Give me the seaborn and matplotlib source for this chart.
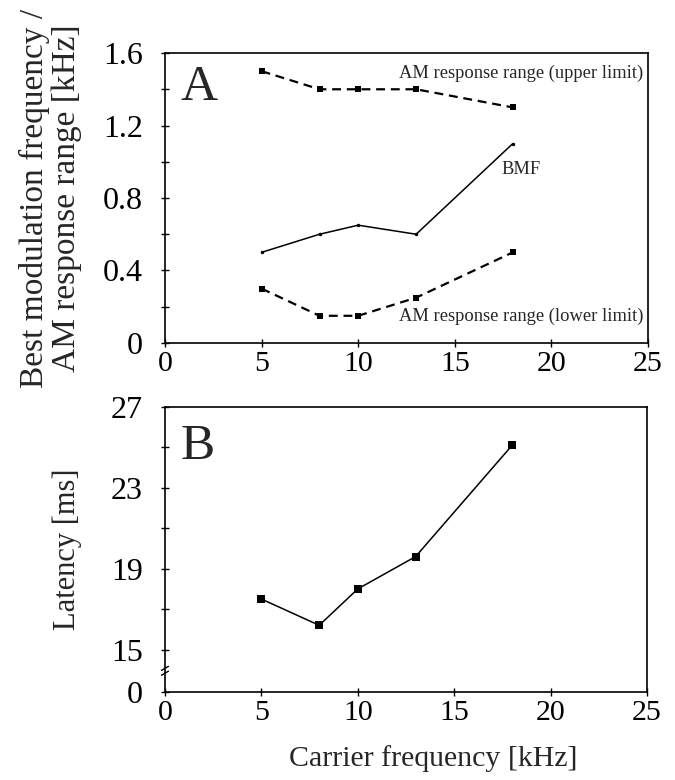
import numpy as np
import pandas as pd
import matplotlib
matplotlib.use("Agg")
import matplotlib.pyplot as plt
from matplotlib.ticker import MultipleLocator, FixedLocator
import seaborn as sns

# ---- data ----
carrier_khz = [5, 8, 10, 13, 18]
am_upper = [1.5, 1.4, 1.4, 1.4, 1.3]
bmf = [0.5, 0.6, 0.65, 0.6, 1.1]
am_lower = [0.3, 0.15, 0.15, 0.25, 0.5]
latency_ms = [17.5, 16.2, 18.0, 19.6, 25.1]

lat_tick_labels = ["0", "15", "19", "23", "27"]
lat_tick_values = [0, 15, 19, 23, 27]
LAT_OFFSET = 12.9  # axis break: values >= 15 shifted down

sns.set_style("ticks")
plt.rcParams["font.family"] = ["Liberation Serif", "DejaVu Serif"]
plt.rcParams["axes.linewidth"] = 1.2

fig = plt.figure(figsize=(6.75, 7.8), dpi=100)
axA = fig.add_axes([0.2444, 0.5603, 0.7156, 0.3717])
axB = fig.add_axes([0.2444, 0.1128, 0.7141, 0.3654])

dfA = pd.DataFrame({"x": carrier_khz, "upper": am_upper, "bmf": bmf, "lower": am_lower})
sns.lineplot(data=dfA, x="x", y="upper", ax=axA, color="black", lw=1.6,
             linestyle=(0, (4, 2.6)), marker="s", markersize=4.5, markeredgewidth=0)
sns.lineplot(data=dfA, x="x", y="lower", ax=axA, color="black", lw=1.6,
             linestyle=(0, (4, 2.6)), marker="s", markersize=5, markeredgewidth=0)
sns.lineplot(data=dfA, x="x", y="bmf", ax=axA, color="black", lw=1.1,
             marker="o", markersize=2.5, markeredgewidth=0)

axA.set_xlim(0, 25)
axA.set_ylim(0, 1.6)
axA.xaxis.set_major_locator(MultipleLocator(5))
axA.yaxis.set_major_locator(FixedLocator([0, 0.4, 0.8, 1.2, 1.6]))
axA.yaxis.set_minor_locator(MultipleLocator(0.2))
axA.set_yticklabels(["0", "0.4", "0.8", "1.2", "1.6"])
axA.set_xlabel("")
axA.set_ylabel("Best modulation frequency /\nAM response range [kHz]", fontsize=24,
               linespacing=1.08)
axA.yaxis.set_label_coords(-0.172, 0.5)

axA.text(0.8, 1.34, "A", fontsize=37)
axA.text(24.75, 1.49, "AM response range (upper limit)", fontsize=13.3, ha="right", va="center")
axA.text(17.4, 0.955, "BMF", fontsize=13.3, ha="left", va="center")
axA.text(24.75, 0.145, "AM response range (lower limit)", fontsize=13.3, ha="right", va="center")

dfB = pd.DataFrame({"x": carrier_khz, "lat": np.array(latency_ms) - LAT_OFFSET})
sns.lineplot(data=dfB, x="x", y="lat", ax=axB, color="black", lw=1.1,
             marker="s", markersize=5.5, markeredgewidth=0)
axB.set_xlim(0, 25)
axB.set_ylim(0, 27 - LAT_OFFSET)
axB.xaxis.set_major_locator(MultipleLocator(5))
maj = [0] + [v - LAT_OFFSET for v in lat_tick_values[1:]]
axB.yaxis.set_major_locator(FixedLocator(maj))
axB.yaxis.set_minor_locator(FixedLocator([v - LAT_OFFSET for v in (17, 21, 25)]))
axB.set_yticklabels(lat_tick_labels)
axB.set_xlabel("Carrier frequency [kHz]", fontsize=21.5)
axB.xaxis.set_label_coords(0.556, -0.185)
axB.set_ylabel("Latency [ms]", fontsize=22)
axB.yaxis.set_label_coords(-0.172, 0.5)
axB.text(0.8, 11.55, "B", fontsize=37)

# axis break marks
for dy in (-0.12, 0.12):
    axB.plot([-0.18, 0.18], [1.05 + dy - 0.1, 1.05 + dy + 0.1], color="black",
             lw=1.0, clip_on=False, transform=axB.transData)

for ax in (axA, axB):
    for s in ax.spines.values():
        s.set_visible(True)
        s.set_color("black")
    ax.tick_params(axis="both", which="both", direction="inout", length=6, width=1,
                   colors="black")
    ax.tick_params(axis="x", which="major", labelsize=21.5, pad=3)
    ax.tick_params(axis="y", which="major", labelsize=23, pad=13)

fig.savefig("out.png", dpi=100)
